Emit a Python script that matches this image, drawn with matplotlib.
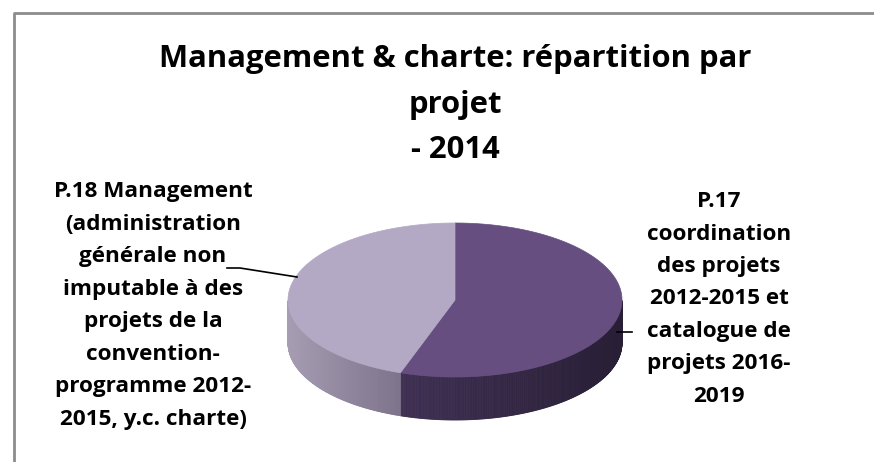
import matplotlib
matplotlib.use('Agg')
import matplotlib.pyplot as plt
import numpy as np
from matplotlib.patches import Polygon
from matplotlib.colors import to_rgb

# Data
labels = ['P.17\ncoordination\ndes projets\n2012-2015 et\ncatalogue de\nprojets 2016-\n2019',
          'P.18 Management\n(administration\ngénérale non\nimputable à des\nprojets de la\nconvention-\nprogramme 2012-\n2015, y.c. charte)']
values = [55.3, 44.7]
top_colors = ['#664E80', '#B3A9C5']
side_colors = [('#3F3053', '#281E35'), ('#A69DB3', '#7D738B')]
title = 'Management & charte: répartition par\nprojet\n- 2014'

plt.rcParams['font.family'] = ['Open Sans', 'DejaVu Sans']

fig = plt.figure(figsize=(8.74, 4.62), dpi=100)
ax = fig.add_axes([0, 0, 1, 1])
ax.set_xlim(0, 874)
ax.set_ylim(462, 0)
ax.axis('off')

# frame of the chart area
ax.plot([14, 14, 874], [462, 13, 13], color='#8C8C8C', lw=2, solid_capstyle='butt')

# pie geometry (pixels)
cx, cy, a, b, depth = 455, 300, 167, 77, 43


def rim(t):
    return cx + a * np.cos(np.radians(t)), cy - b * np.sin(np.radians(t))


def mix(c1, c2, f):
    c1, c2 = np.array(to_rgb(c1)), np.array(to_rgb(c2))
    return tuple(c1 + (c2 - c1) * f)


def lines_text(x, y0, step, text, size):
    # one text per line so the baselines sit where they should
    for k, line in enumerate(text.split('\n')):
        ax.text(x, y0 + k * step, line, ha='center', va='baseline',
                fontsize=size, fontweight='bold', color='black')


total = sum(values)
bounds = [90.0]
for v in values:
    bounds.append(bounds[-1] - 360.0 * v / total)

# sides (front half only)
for i, v in enumerate(values):
    ts = np.linspace(bounds[i + 1], bounds[i], 400)
    ts_front = np.array([t for t in ts if np.sin(np.radians(t % 360)) < 0])
    if len(ts_front) < 2:
        continue
    xs, ys = rim(ts_front)
    x_lo, x_hi = xs.min(), xs.max()
    for k in range(len(ts_front) - 1):
        f = (xs[k] - x_lo) / max(x_hi - x_lo, 1)
        col = mix(side_colors[i][0], side_colors[i][1], f)
        poly = [(xs[k], ys[k]), (xs[k + 1], ys[k + 1]),
                (xs[k + 1], ys[k + 1] + depth), (xs[k], ys[k] + depth)]
        ax.add_patch(Polygon(poly, closed=True, facecolor=col, edgecolor=col, lw=0.6))

# top faces
for i, v in enumerate(values):
    ts = np.linspace(bounds[i], bounds[i + 1], 200)
    xs, ys = rim(ts)
    pts = [(cx, cy)] + list(zip(xs, ys))
    ax.add_patch(Polygon(pts, closed=True, facecolor=top_colors[i], edgecolor=top_colors[i], lw=0.5))

# title
lines_text(455, 67, 45.5, title, 22.3)

# data labels
lines_text(719, 207, 32.5, labels[0], 16.2)
lines_text(153, 197, 32.5, labels[1], 16.2)

# leader lines
ax.plot([227, 240, 297], [268, 268, 277], color='black', lw=1.2)
ax.plot([617, 632], [332, 332], color='black', lw=1.2)

fig.savefig('out.png', dpi=100)
